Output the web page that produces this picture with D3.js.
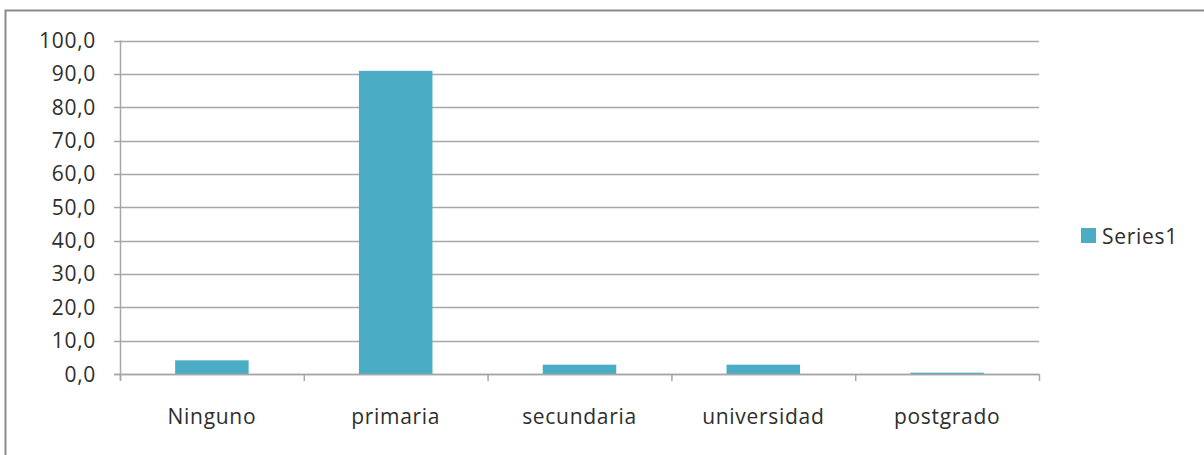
<!DOCTYPE html>
<html>
<head>
<meta charset="utf-8">
<script src="https://cdn.jsdelivr.net/npm/d3@7"></script>
<style>
  body { margin: 0; background: #fff; }
  svg text { font-family: "Open Sans", sans-serif; fill: #2e2e2e; letter-spacing: 0.7px; }
</style>
</head>
<body>
<svg id="board" width="1204" height="455"></svg>
<script>
let categories = ['Ninguno', 'primaria', 'secundaria', 'universidad', 'postgrado']
let values = [4.1, 90.9, 2.8, 2.8, 0.4]
let yTicks = [0, 10, 20, 30, 40, 50, 60, 70, 80, 90, 100]
let seriesName = 'Series1'

let board = d3.select('#board')
let barColor = '#4bacc6'
let gridColor = '#a6a6a6'

// outer frame (only top and left show in the picture)
board.append('path')
    .attr('d', 'M5.5,455 L5.5,10.5 L1204,10.5')
    .attr('fill', 'none')
    .attr('stroke', '#8a8a8a')
    .attr('stroke-width', 2)

let x = d3.scaleBand()
    .domain(categories)
    .range([120, 1039])
    .paddingInner(0.6)
    .paddingOuter(0.3)

let y = d3.scaleLinear()
    .domain([0, 100])
    .range([374, 40.5])

let fmt = (d) => d.toFixed(1).replace('.', ',')

// grid lines
board.append('g')
    .selectAll('line')
    .data(yTicks)
    .enter()
    .append('line')
    .attr('x1', 114)
    .attr('x2', 1039)
    .attr('y1', (d) => Math.round(y(d)) + 0.5)
    .attr('y2', (d) => Math.round(y(d)) + 0.5)
    .attr('stroke', gridColor)
    .attr('stroke-width', 1.5)

// y labels
board.append('g')
    .selectAll('text')
    .data(yTicks)
    .enter()
    .append('text')
    .attr('x', 96)
    .attr('y', (d) => y(d) + 7.5)
    .attr('text-anchor', 'end')
    .attr('font-size', 21)
    .text(fmt)

// bars
board.append('g')
    .selectAll('rect')
    .data(values)
    .enter()
    .append('rect')
    .attr('x', (d, i) => x(categories[i]))
    .attr('y', (d) => y(d))
    .attr('width', x.bandwidth())
    .attr('height', (d) => y(0) - y(d))
    .attr('fill', barColor)

// axes lines
board.append('line')
    .attr('x1', 120.5).attr('x2', 120.5)
    .attr('y1', y(100)).attr('y2', 380)
    .attr('stroke', gridColor).attr('stroke-width', 1.5)

board.append('line')
    .attr('x1', 114).attr('x2', 1039)
    .attr('y1', 374.5).attr('y2', 374.5)
    .attr('stroke', gridColor).attr('stroke-width', 1.5)

// category tick marks at band edges
let edge = (i) => 120.5 + i * x.step()
board.append('g')
    .selectAll('line')
    .data(d3.range(categories.length + 1))
    .enter()
    .append('line')
    .attr('x1', edge)
    .attr('x2', edge)
    .attr('y1', 374)
    .attr('y2', 381)
    .attr('stroke', gridColor)
    .attr('stroke-width', 1.5)

// category labels
board.append('g')
    .selectAll('text')
    .data(categories)
    .enter()
    .append('text')
    .attr('x', (d) => x(d) + x.bandwidth() / 2)
    .attr('y', 424)
    .attr('text-anchor', 'middle')
    .attr('font-size', 21)
    .text((d) => d)

// legend
board.append('rect')
    .attr('x', 1081).attr('y', 228)
    .attr('width', 15).attr('height', 15)
    .attr('fill', barColor)
board.append('text')
    .attr('x', 1102).attr('y', 244)
    .attr('font-size', 21)
    .text(seriesName)
</script>
</body>
</html>
